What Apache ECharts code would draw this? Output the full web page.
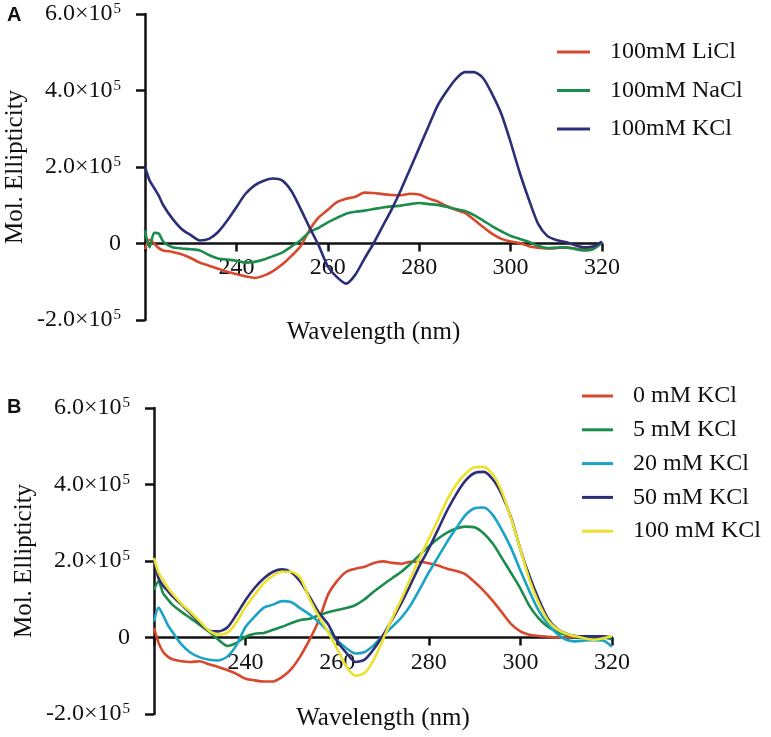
<!DOCTYPE html>
<html>
<head>
<meta charset="utf-8">
<script src="https://cdn.jsdelivr.net/npm/echarts@6/dist/echarts.min.js"></script>
<style>
html,body{margin:0;padding:0;background:#fff;}
#chart{width:771px;height:737px;}
</style>
</head>
<body>
<div id="chart"></div>
<script>
// Wavelength grid (nm)
const wavelengths = [220,221,222,223,224,226,228,230,232,234,236,238,240,242,244,246,248,250,252,254,256,258,260,262,264,266,268,270,272,274,276,278,280,282,284,286,288,290,292,294,296,298,300,302,304,306,308,310,312,314,316,318,320];

// Panel A values (x10^5)
const licl100 = [-0.15,0.1,0.0,-0.12,-0.18,-0.22,-0.28,-0.38,-0.5,-0.58,-0.66,-0.74,-0.8,-0.86,-0.9,-0.84,-0.72,-0.55,-0.33,-0.08,0.35,0.68,0.88,1.08,1.17,1.22,1.33,1.32,1.29,1.27,1.26,1.3,1.28,1.18,1.1,0.98,0.88,0.8,0.62,0.43,0.25,0.12,0.05,0.01,-0.07,-0.11,-0.13,-0.12,-0.1,-0.13,-0.14,-0.1,0.03];
const nacl100 = [0.34,-0.1,0.28,0.26,0.05,-0.1,-0.13,-0.15,-0.18,-0.3,-0.39,-0.42,-0.45,-0.5,-0.48,-0.42,-0.33,-0.24,-0.08,0.08,0.3,0.41,0.55,0.67,0.78,0.83,0.86,0.9,0.94,0.97,0.99,1.03,1.06,1.03,1.01,0.96,0.9,0.85,0.74,0.6,0.45,0.32,0.2,0.12,0.04,-0.06,-0.12,-0.11,-0.1,-0.14,-0.18,-0.15,0.02];
const kcl100A = [2.0,1.65,1.45,1.25,1.0,0.65,0.38,0.22,0.08,0.12,0.3,0.6,0.95,1.3,1.52,1.64,1.7,1.65,1.38,0.92,0.42,-0.05,-0.6,-0.88,-1.05,-0.82,-0.4,0.0,0.45,0.9,1.4,1.95,2.5,3.05,3.6,3.98,4.3,4.48,4.48,4.32,3.9,3.38,2.65,1.85,1.15,0.52,0.2,0.09,0.04,-0.04,-0.1,-0.08,0.05];

// Panel B values (x10^5)
const kcl0 = [0.25,-0.14,-0.38,-0.5,-0.57,-0.62,-0.64,-0.62,-0.7,-0.77,-0.85,-0.95,-1.08,-1.12,-1.15,-1.15,-1.03,-0.82,-0.48,-0.05,0.45,1.12,1.48,1.72,1.8,1.85,1.95,1.99,1.95,1.93,1.98,1.98,1.94,1.88,1.8,1.74,1.65,1.45,1.22,0.95,0.65,0.35,0.16,0.07,0.04,0.02,0.0,0.0,0.02,0.03,0.03,0.02,0.0];
const kcl5 = [1.25,1.47,1.15,1.0,0.86,0.67,0.5,0.33,0.15,-0.05,-0.22,-0.14,0.02,0.1,0.12,0.2,0.28,0.38,0.46,0.49,0.58,0.66,0.72,0.77,0.85,1.0,1.2,1.38,1.55,1.72,1.93,2.16,2.38,2.58,2.74,2.85,2.9,2.88,2.72,2.45,2.07,1.68,1.28,0.82,0.5,0.28,0.15,0.07,0.03,0.01,0.0,0.0,-0.05];
const kcl20 = [0.42,0.78,0.58,0.33,0.15,-0.18,-0.4,-0.52,-0.58,-0.6,-0.5,-0.2,0.28,0.55,0.78,0.86,0.95,0.92,0.76,0.6,0.4,0.17,-0.08,-0.28,-0.42,-0.38,-0.2,0.05,0.28,0.52,0.84,1.26,1.7,2.1,2.5,2.86,3.2,3.38,3.4,3.2,2.8,2.33,1.75,1.2,0.7,0.35,0.1,-0.06,-0.1,-0.08,-0.07,-0.08,-0.24];
const kcl50 = [2.03,1.55,1.35,1.22,1.08,0.86,0.62,0.38,0.18,0.16,0.26,0.6,0.98,1.3,1.55,1.72,1.78,1.7,1.45,1.06,0.65,0.35,-0.1,-0.4,-0.64,-0.58,-0.3,0.06,0.47,0.9,1.38,1.88,2.32,2.82,3.32,3.75,4.1,4.3,4.33,4.13,3.72,3.12,2.3,1.6,1.0,0.5,0.23,0.1,0.04,0.03,0.03,0.03,0.0];
const kcl100B = [2.08,1.69,1.5,1.3,1.15,0.88,0.66,0.42,0.18,0.08,0.12,0.4,0.8,1.12,1.42,1.62,1.72,1.72,1.55,1.0,0.55,0.15,-0.3,-0.76,-1.0,-0.93,-0.58,-0.05,0.5,1.0,1.55,2.08,2.58,3.08,3.6,4.0,4.28,4.45,4.46,4.26,3.8,3.1,2.3,1.5,0.9,0.45,0.22,0.1,0.03,-0.02,-0.06,-0.02,0.03];

// Tick labels
const xTickValues = [220,240,260,280,300,320];
const xTickLabels = ['','240','260','280','300','320'];
const yTickValues = [-200000,0,200000,400000,600000];
const yTickMantissa = ['-2.0','0','2.0','4.0','6.0'];

const namesA = ['100mM LiCl','100mM NaCl','100mM KCl'];
const namesB = ['0 mM KCl','5 mM KCl','20 mM KCl','50 mM KCl','100 mM KCl'];

const C_RED = '#d7482c', C_GREEN = '#1c8c4c', C_NAVY = '#2c2e78', C_CYAN = '#1ba3c6', C_YEL = '#ece22c';

const SERIF = '"Liberation Serif","Times New Roman",serif';

function pairs(arr){ return wavelengths.map((w,i)=>[w, arr[i]*1e5]); }

function xLabel(v){ const i = xTickValues.indexOf(v); return i>=0 ? xTickLabels[i] : ''; }
function yLabel(v){
  const i = yTickValues.indexOf(v);
  if (i < 0) return '';
  if (v === 0) return '{m|0}';
  return '{m|' + yTickMantissa[i] + '×10}{s|5}';
}

function xAxisCfg(gi, gap, lblMargin){
  return {
    type:'value', gridIndex:gi, min:220, max:320, interval:20,
    name:'Wavelength (nm)', nameLocation:'middle', nameGap:gap, nameMoveOverlap:false,
    nameTextStyle:{fontFamily:SERIF, fontSize:25, color:'#111'},
    axisLine:{onZero:true, lineStyle:{color:'#111', width:2.5}},
    axisTick:{show:true, inside:false, length:8, lineStyle:{color:'#111', width:2.5}},
    axisLabel:{formatter:xLabel, fontFamily:SERIF, fontSize:24, color:'#111', margin:lblMargin, hideOverlap:false},
    splitLine:{show:false}
  };
}
function yAxisCfg(gi){
  return {
    type:'value', gridIndex:gi, min:-200000, max:600000, interval:200000,
    name:'Mol. Ellipticity', nameLocation:'middle', nameGap:117, nameMoveOverlap:false,
    nameTextStyle:{fontFamily:SERIF, fontSize:25, color:'#111'},
    axisLine:{onZero:false, lineStyle:{color:'#111', width:2.5}},
    axisTick:{show:true, length:9, lineStyle:{color:'#111', width:2.5}},
    axisLabel:{formatter:yLabel, margin:24, color:'#111',
      rich:{
        m:{fontFamily:SERIF, fontSize:24, color:'#111', lineHeight:24},
        s:{fontFamily:SERIF, fontSize:15, color:'#111', verticalAlign:'top', lineHeight:24, padding:[0,0,8,1]}
      }},
    splitLine:{show:false}
  };
}
function lineSeries(name, arr, color, xi, yi){
  return {
    type:'line', name:name, xAxisIndex:xi, yAxisIndex:yi, data:pairs(arr),
    showSymbol:false, symbol:'none', smooth:0.25,
    lineStyle:{color:color, width:2.6}, itemStyle:{color:color}, z:3
  };
}

const chart = echarts.init(document.getElementById('chart'), null, {renderer:'canvas'});
chart.setOption({
  animation:false,
  backgroundColor:'#ffffff',
  title:[
    {text:'A', left:7, top:5, padding:0, textStyle:{fontFamily:'"Liberation Sans",Arial,sans-serif', fontWeight:'bold', fontSize:20, color:'#111'}},
    {text:'B', left:7, top:397, padding:0, textStyle:{fontFamily:'"Liberation Sans",Arial,sans-serif', fontWeight:'bold', fontSize:20, color:'#111'}}
  ],
  grid:[
    {left:145, right:169, top:14, bottom:417, containLabel:false, outerBoundsMode:'none'},
    {left:154, right:159, top:408, bottom:23, containLabel:false, outerBoundsMode:'none'}
  ],
  xAxis:[xAxisCfg(0, 0, -64), xAxisCfg(1, -8, -63)],
  yAxis:[yAxisCfg(0), yAxisCfg(1)],
  legend:[
    {data:namesA, orient:'vertical', left:557, top:40, padding:0, icon:'rect', itemWidth:33, itemHeight:3, itemGap:14.5,
     textStyle:{fontFamily:SERIF, fontSize:24, color:'#111', lineHeight:24, padding:[0,0,0,15]}},
    {data:namesB, orient:'vertical', left:582, top:384, padding:0, icon:'rect', itemWidth:31, itemHeight:3, itemGap:9.8,
     textStyle:{fontFamily:SERIF, fontSize:24, color:'#111', lineHeight:24, padding:[0,0,0,15]}}
  ],
  series:[
    lineSeries(namesA[0], licl100, C_RED, 0, 0),
    lineSeries(namesA[1], nacl100, C_GREEN, 0, 0),
    lineSeries(namesA[2], kcl100A, C_NAVY, 0, 0),
    lineSeries(namesB[0], kcl0, C_RED, 1, 1),
    lineSeries(namesB[1], kcl5, C_GREEN, 1, 1),
    lineSeries(namesB[2], kcl20, C_CYAN, 1, 1),
    lineSeries(namesB[3], kcl50, C_NAVY, 1, 1),
    lineSeries(namesB[4], kcl100B, C_YEL, 1, 1)
  ]
});
</script>
</body>
</html>
